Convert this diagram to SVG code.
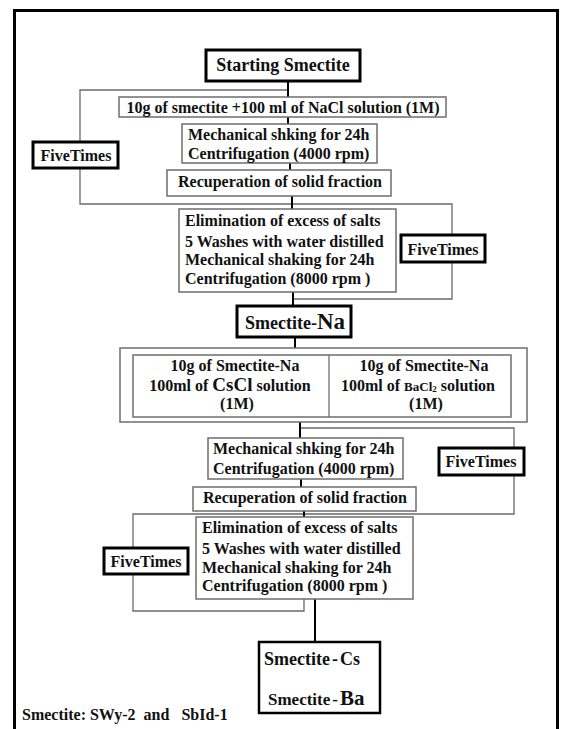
<svg xmlns="http://www.w3.org/2000/svg" width="566" height="729" viewBox="0 0 566 729">
<style>
text{font-family:"Liberation Serif","Times New Roman",serif;font-weight:bold;fill:#111;font-size:16px}
.c{text-anchor:middle}
.box{fill:#fff;stroke:#6e6e6e;stroke-width:1.5}
.thick{fill:#fff;stroke:#000;stroke-width:3}
.loop{fill:none;stroke:#6a6a6a;stroke-width:1.3}
.main{fill:none;stroke:#000;stroke-width:2}
</style>
<rect x="14.5" y="10.5" width="543" height="740" fill="#fff" stroke="#000" stroke-width="3"/>
<g id="connectors">
<path class="loop" d="M288,90H80V142M80,168V204H452V235M452,262V299H293"/>
<path class="loop" d="M300,428H514V448M514,475V514H133V548M133,574V611H304V599"/>
<path class="main" d="M288,81V97M288,117V124M290,163V170M292,196V209M293,292V306M295,337V348M300,422V438M301,479V487M304,511V517M315,599V642"/>
</g>
<g id="start"><rect class="thick" x="206" y="50" width="154" height="31"/><text class="c" x="283" y="71" style="font-size:18px">Starting Smectite</text></g>
<g id="nacl"><rect class="box" x="119" y="97" width="327" height="20"/><text class="c" x="283" y="112.5">10g of smectite +100 ml of NaCl solution (1M)</text></g>
<g id="mech1"><rect class="box" x="182" y="124" width="195" height="39"/><text x="188" y="139.5">Mechanical shking for 24h</text><text x="188" y="158.5">Centrifugation (4000 rpm)</text></g>
<g id="five1"><rect class="thick" x="33" y="142" width="85" height="26"/><text class="c" x="76" y="160.5">FiveTimes</text></g>
<g id="recup1"><rect class="box" x="167" y="170" width="224" height="26"/><text x="178" y="187">Recuperation of solid fraction</text></g>
<g id="elim1"><rect class="box" x="179" y="209" width="217" height="83"/><text x="185" y="225.5">Elimination of excess of salts</text><text x="185" y="246.5">5 Washes with water distilled</text><text x="185" y="264.5">Mechanical shaking for 24h</text><text x="185" y="283.5">Centrifugation (8000 rpm )</text></g>
<g id="five2"><rect class="thick" x="401" y="235" width="84" height="27"/><text class="c" x="443" y="254.5">FiveTimes</text></g>
<g id="smectiteNa"><rect class="thick" x="237" y="306" width="114" height="31"/><text x="245" y="329" style="font-size:18px">Smectite-<tspan style="font-size:23px">Na</tspan></text></g>
<g id="exchange">
<rect class="box" x="120" y="348" width="407" height="74"/>
<rect class="box" x="133" y="355" width="378" height="62"/>
<line x1="329" y1="355" x2="329" y2="417" stroke="#6e6e6e" stroke-width="1.3"/>
<text class="c" x="235" y="371">10g of Smectite-Na</text>
<text class="c" x="230" y="390.5">100ml of <tspan style="font-size:19px">CsCl</tspan> solution</text>
<text class="c" x="237" y="409">(1M)</text>
<text class="c" x="424" y="371">10g of Smectite-Na</text>
<text class="c" x="418" y="390.5">100ml of  <tspan style="font-size:13px">BaCl</tspan><tspan style="font-size:9px" dy="1">2</tspan><tspan dy="-1"> solution</tspan></text>
<text class="c" x="426" y="409">(1M)</text>
</g>
<g id="mech2"><rect class="box" x="208" y="438" width="195" height="41"/><text x="213" y="453.5">Mechanical shking for 24h</text><text x="213" y="473.5">Centrifugation (4000 rpm)</text></g>
<g id="five3"><rect class="thick" x="439" y="448" width="85" height="27"/><text class="c" x="481" y="467">FiveTimes</text></g>
<g id="recup2"><rect class="box" x="193" y="487" width="223" height="24"/><text x="203" y="503">Recuperation of solid fraction</text></g>
<g id="elim2"><rect class="box" x="196" y="517" width="217" height="82"/><text x="202" y="532.5">Elimination of excess of salts</text><text x="202" y="553.5">5 Washes with water distilled</text><text x="202" y="572.5">Mechanical shaking for 24h</text><text x="202" y="590.5">Centrifugation (8000 rpm )</text></g>
<g id="five4"><rect class="thick" x="104" y="548" width="84" height="26"/><text class="c" x="146" y="566.5">FiveTimes</text></g>
<g id="final"><rect x="259" y="642" width="121" height="71" fill="#fff" stroke="#000" stroke-width="2.5"/>
<text x="264" y="665" style="font-size:18px">Smectite<tspan dx="2">-</tspan><tspan dx="2">Cs</tspan></text>
<text x="268" y="705" style="font-size:17px">Smectite<tspan dx="2">-</tspan><tspan dx="2" style="font-size:21px">Ba</tspan></text>
</g>
<text x="22" y="719.5" style="white-space:pre">Smectite: SWy-2  and   SbId-1</text>
</svg>
